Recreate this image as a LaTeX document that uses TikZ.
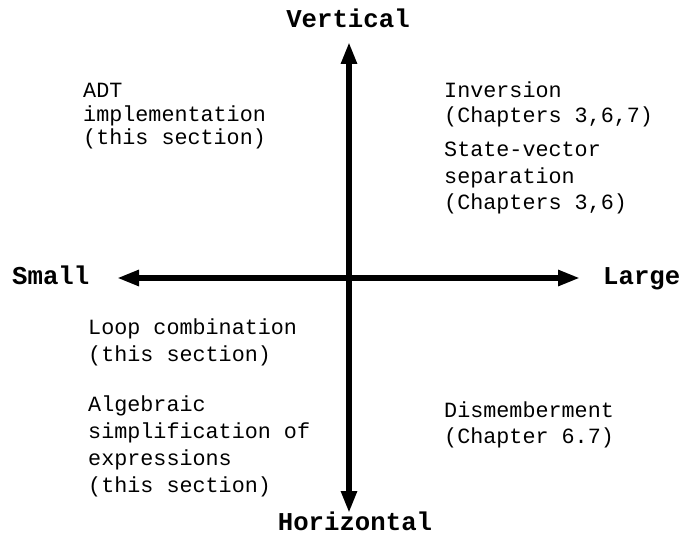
\documentclass[tikz,border=0pt]{standalone}
\usepackage{fontspec}
\setmonofont{Liberation Mono}
\usetikzlibrary{arrows.meta}
\tikzset{
  axis/.style={line width=5.5pt, {Triangle[length=22pt,width=15pt]}-{Triangle[length=22pt,width=15pt]}},
  axislabel/.style={inner sep=0pt, font=\ttfamily\bfseries\fontsize{25.7}{30}\selectfont},
  entry/.style={inner sep=0pt, align=left, anchor=base west, font=\ttfamily\fontsize{21.75}{#1}\selectfont},
}
\begin{document}
\begin{tikzpicture}[x=1pt,y=-1pt]
\useasboundingbox (0,0) rectangle (683,537);
\coordinate (top) at (349,42);
\coordinate (bot) at (349,513);
\coordinate (lft) at (117,278);
\coordinate (rgt) at (580,278);
\draw[axis] (bot) -- (top);
\draw[axis] (lft) -- (rgt);
\node[axislabel, anchor=base] (vert) at (348,28) {Vertical};
\node[axislabel, anchor=base] (horiz) at (355,530) {Horizontal};
\node[axislabel, anchor=base west] (small) at (12,285) {Small};
\node[axislabel, anchor=base west] (large) at (603,285) {Large};
% base anchor of a multi-line node = baseline of its last line
\node[entry=23.5] (adt) at (83,145) {ADT\\implementation\\(this section)};
\node[entry=25] (inv) at (444,123) {Inversion\\(Chapters 3,6,7)};
\node[entry=26.5] (svs) at (444,210) {State-vector\\separation\\(Chapters 3,6)};
\node[entry=27] (loop) at (88,362) {Loop combination\\(this section)};
\node[entry=26.7] (alg) at (88,492) {Algebraic\\simplification of\\expressions\\(this section)};
\node[entry=26] (dis) at (444,443) {Dismemberment\\(Chapter 6.7)};
\end{tikzpicture}
\end{document}
